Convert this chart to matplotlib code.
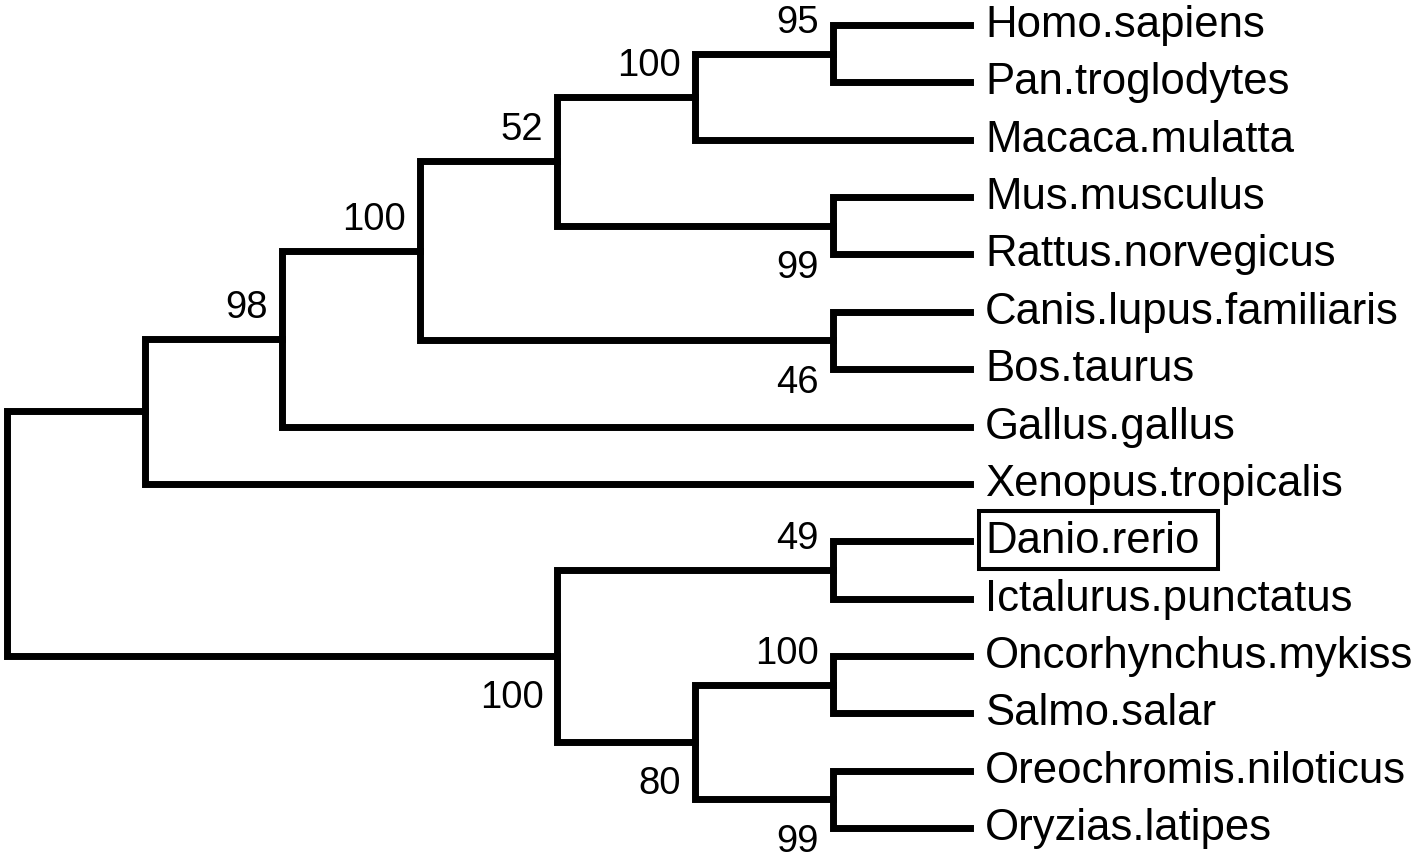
import matplotlib
matplotlib.use('Agg')
import matplotlib.pyplot as plt
from matplotlib.patches import Rectangle

plt.rcParams['font.family'] = ['Liberation Sans', 'DejaVu Sans']

# leaf names, top to bottom
leaves = ['Homo.sapiens', 'Pan.troglodytes', 'Macaca.mulatta', 'Mus.musculus',
          'Rattus.norvegicus', 'Canis.lupus.familiaris', 'Bos.taurus',
          'Gallus.gallus', 'Xenopus.tropicalis', 'Danio.rerio',
          'Ictalurus.punctatus', 'Oncorhynchus.mykiss', 'Salmo.salar',
          'Oreochromis.niloticus', 'Oryzias.latipes']

# topology, leaves given by index
tree = (((((((0, 1), 2), (3, 4)), (5, 6)), 7), 8),
        ((9, 10), ((11, 12), (13, 14))))

# bootstrap values keyed by (first leaf, last leaf) of the clade
support = {
    (0, 1): (95, 'above'),
    (0, 2): (100, 'above'),
    (3, 4): (99, 'below'),
    (0, 4): (52, 'above'),
    (5, 6): (46, 'below'),
    (0, 6): (100, 'above'),
    (0, 7): (98, 'above'),
    (9, 10): (49, 'above'),
    (11, 12): (100, 'above'),
    (13, 14): (99, 'below'),
    (11, 14): (80, 'below'),
    (9, 14): (100, 'below'),
}

highlighted = 'Danio.rerio'

DPI = 100
W, H = 1427, 860
LW = 5.0
LEAF_FS = 31.5
SUP_FS = 27.5


def pt(px):
    return px * 72.0 / DPI


def height(node):
    if isinstance(node, int):
        return 0
    return max(height(c) for c in node) + 1


fig = plt.figure(figsize=(W / DPI, H / DPI), dpi=DPI)
ax = fig.add_axes([0, 0, 1, 1])
ax.axis('off')

n_levels = height(tree)
# pixel geometry of the reference
x0_px, level_px = 7, 137.6
y0_px, leaf_px = 25, 57.36
ax.set_xlim(-x0_px / level_px, (W - x0_px) / level_px)
ax.set_ylim((H - y0_px) / leaf_px, -y0_px / leaf_px)


def draw(node):
    if isinstance(node, int):
        return n_levels, float(node), node, node
    kids = [draw(c) for c in node]
    x = n_levels - height(node)
    y = sum(k[1] for k in kids) / len(kids)
    lo, hi = kids[0][2], kids[-1][3]
    (xa, ya, _, _), (xb, yb, _, _) = kids[0], kids[-1]
    ax.plot([xa, x, x, xb], [ya, ya, yb, yb], color='black', lw=LW,
            solid_joinstyle='miter', solid_capstyle='projecting')
    if (lo, hi) in support:
        val, side = support[(lo, hi)]
        if side == 'above':
            off = pt(21)
        else:
            off = -pt(25 + 0.716 * SUP_FS / 72 * DPI)
        ax.annotate(str(val), (x, y), xytext=(-pt(14), off),
                    textcoords='offset points', ha='right', va='baseline',
                    fontsize=SUP_FS)
    return x, y, lo, hi


draw(tree)

boxed = None
for i, name in enumerate(leaves):
    t = ax.annotate(name, (n_levels, i), xytext=(pt(15), -pt(12)),
                    textcoords='offset points', ha='left', va='baseline',
                    fontsize=LEAF_FS)
    if name == highlighted:
        boxed = t

# frame around the highlighted leaf label (extra room on the right)
fig.canvas.draw()
bb = boxed.get_window_extent()
inv = fig.transFigure.inverted()
(fx0, fy0) = inv.transform((bb.x0 - 6, bb.y0 - 7))
(fx1, fy1) = inv.transform((bb.x1 + 18, bb.y1 + 10))
fig.patches.append(Rectangle((fx0, fy0), fx1 - fx0, fy1 - fy0, fill=False,
                             ec='black', lw=2.9, joinstyle='miter',
                             transform=fig.transFigure))

fig.savefig('out.png', dpi=DPI)
